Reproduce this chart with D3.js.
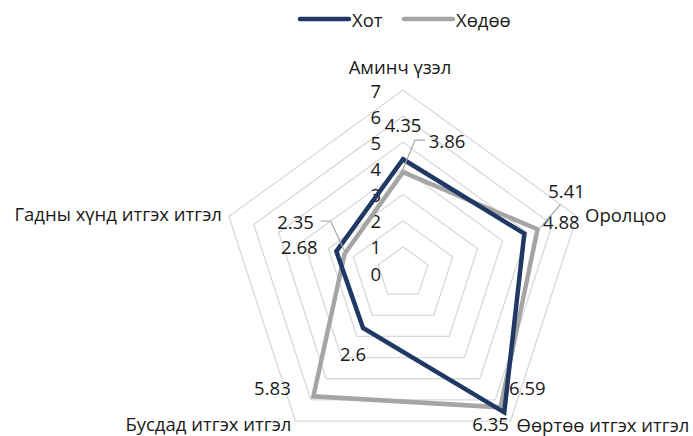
<!DOCTYPE html>
<html>
<head>
<meta charset="utf-8">
<script src="https://cdn.jsdelivr.net/npm/d3@7"></script>
<style>
  body { margin: 0; background: #fff; }
  text { font-family: "Open Sans", "Noto Sans", sans-serif; fill: #1a1a1a; }
</style>
</head>
<body>
<div id="chart"></div>
<script>
const axes = ["Аминч үзэл", "Оролцоо", "Өөртөө итгэх итгэл", "Бусдад итгэх итгэл", "Гадны хүнд итгэх итгэл"];
const seriesNames = ["Хот", "Хөдөө"];
const hotValues = [4.35, 4.88, 6.59, 2.6, 2.68];
const hodooValues = [3.86, 5.41, 6.35, 5.83, 2.35];
const levels = [0, 1, 2, 3, 4, 5, 6, 7];

const width = 693, height = 436;
const cx = 403, cy = 273, R = 183;
const fontSize = "18.5px";
const colors = { "Хот": "#1f3864", "Хөдөө": "#a5a5a5" };

// label offsets (dx, dy from point), leader flag
const hotLabelPos = [[0, -35], [37, -12], [23, -25], [-10, 26], [-37, -5]];
const hodooLabelPos = [[44, -32, true], [29, -39, true], [-10, 16], [-41, -9], [-49, -33, true]];

const svg = d3.select("#chart").append("svg")
  .attr("width", width).attr("height", height);

const r = d3.scaleLinear().domain([0, 7]).range([0, R]);
const angle = d3.scalePoint().domain(axes.concat(["_end"])).range([0, 2 * Math.PI]);

function pt(i, v) {
  const a = angle(axes[i]);
  return [cx + r(v) * Math.sin(a), cy - r(v) * Math.cos(a)];
}

const line = d3.line().curve(d3.curveLinearClosed);

// grid
svg.append("g").selectAll("path")
  .data(levels.slice(1))
  .join("path")
  .attr("d", lv => line(axes.map((a, i) => pt(i, lv))))
  .attr("fill", "none")
  .attr("stroke", "#d9d9d9")
  .attr("stroke-width", 1.3);

// tick labels
svg.append("g").selectAll("text")
  .data(levels)
  .join("text")
  .attr("x", cx - 22)
  .attr("y", d => cy - r(d))
  .attr("text-anchor", "end")
  .attr("dominant-baseline", "central")
  .style("font-size", fontSize)
  .text(d => d);

// axis labels
const axisLabelPos = [[-3, -24, "middle"], [8, -2, "start"], [6, 3, "start"], [-4, 2, "end"], [-7, -3, "end"]];
svg.append("g").selectAll("text")
  .data(axes)
  .join("text")
  .attr("x", (d, i) => pt(i, 7)[0] + axisLabelPos[i][0])
  .attr("y", (d, i) => pt(i, 7)[1] + axisLabelPos[i][1])
  .attr("text-anchor", (d, i) => axisLabelPos[i][2])
  .attr("dominant-baseline", "central")
  .style("font-size", fontSize)
  .text(d => d);

const series = [
  { name: "Хот", values: hotValues, labels: hotLabelPos },
  { name: "Хөдөө", values: hodooValues, labels: hodooLabelPos }
];

// gray first, blue on top
[series[1], series[0]].forEach(s => {
  svg.append("path")
    .attr("d", line(s.values.map((v, i) => pt(i, v))))
    .attr("fill", "none")
    .attr("stroke", colors[s.name])
    .attr("stroke-width", 4.5)
    .attr("stroke-linejoin", "miter");
});

// data labels
series.forEach(s => {
  const g = svg.append("g");
  s.values.forEach((v, i) => {
    const [px, py] = pt(i, v);
    const [dx, dy, leader] = s.labels[i];
    const lx = px + dx, ly = py + dy;
    if (leader) {
      const edge = dx > 0 ? lx - 22 : lx + 25;
      const knee = dx > 0 ? edge - 10 : edge + 10;
      g.append("path")
        .attr("d", dx > 0 && i === 1
          ? `M${lx - 6},${ly + 14} L${px + 3},${py - 2}`
          : `M${edge},${ly} L${knee},${ly} L${px},${py - 3}`)
        .attr("fill", "none")
        .attr("stroke", "#a6a6a6")
        .attr("stroke-width", 1.2);
    }
    g.append("text")
      .attr("x", lx).attr("y", ly)
      .attr("text-anchor", "middle")
      .attr("dominant-baseline", "central")
      .style("font-size", fontSize)
      .text(v);
  });
});

// legend
const legend = svg.append("g");
const legendX = [300, 404];
seriesNames.forEach((n, i) => {
  legend.append("line")
    .attr("x1", legendX[i]).attr("x2", legendX[i] + 49)
    .attr("y1", 19).attr("y2", 19)
    .attr("stroke", colors[n])
    .attr("stroke-width", 4.5)
    .attr("stroke-linecap", "round");
  legend.append("text")
    .attr("x", legendX[i] + 52).attr("y", 19)
    .attr("dominant-baseline", "central")
    .style("font-size", fontSize)
    .text(n);
});
</script>
</body>
</html>
